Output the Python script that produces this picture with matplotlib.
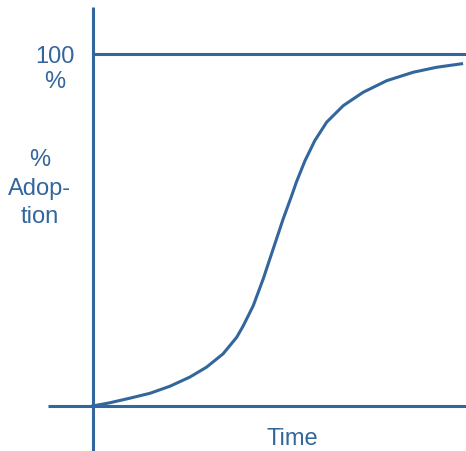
import matplotlib
matplotlib.use("Agg")
import matplotlib.pyplot as plt

# adoption curve (time in 0..100, adoption in %)
time = [0, 4.6, 10.0, 15.5, 20.9, 26.3, 30.8, 35.3, 39.0, 40.8, 43.5, 46.2,
        48.9, 51.6, 53.9, 55.2, 57.5, 60.2, 63.4, 67.9, 73.3, 79.7, 86.9,
        93.2, 100]
adoption = [0, 0.9, 2.2, 3.6, 5.6, 8.2, 11.0, 14.8, 19.5, 22.8, 28.5, 36.1,
            44.6, 53.1, 59.7, 63.6, 69.6, 75.4, 80.6, 85.3, 89.1, 92.4, 94.8,
            96.2, 97.2]

blue = "#33669c"
plt.rcParams['font.family'] = ['Liberation Sans Narrow', 'Liberation Sans', 'DejaVu Sans']

fig = plt.figure(figsize=(4.66, 4.52), dpi=100)
ax = fig.add_axes([0, 0, 1, 1])
ax.set_xlim(-25.2, 101.2)
ax.set_ylim(-12.8, 115.6)
ax.axis("off")

# axes and the 100% line
ax.axvline(0, ymin=0, ymax=0.982, color=blue, lw=2.2, solid_capstyle="butt")
ax.plot([-12.2, 101.2], [0, 0], color=blue, lw=2.2, solid_capstyle="butt")
ax.plot([0, 101.2], [100, 100], color=blue, lw=2.2, solid_capstyle="butt")

ax.plot(time, adoption, color=blue, lw=2.2, solid_joinstyle="round")

ax.text(-10.3, 95.8, "100\n%", color=blue, fontsize=17, ha="center", va="center",
        linespacing=1.2)
ax.text(-14.4, 62.0, "%\nAdop-\ntion", color=blue, fontsize=17, ha="center",
        va="center", linespacing=1.4)
ax.text(54.2, -9.2, "Time", color=blue, fontsize=17, ha="center", va="center")

fig.savefig("out.png", dpi=100)
